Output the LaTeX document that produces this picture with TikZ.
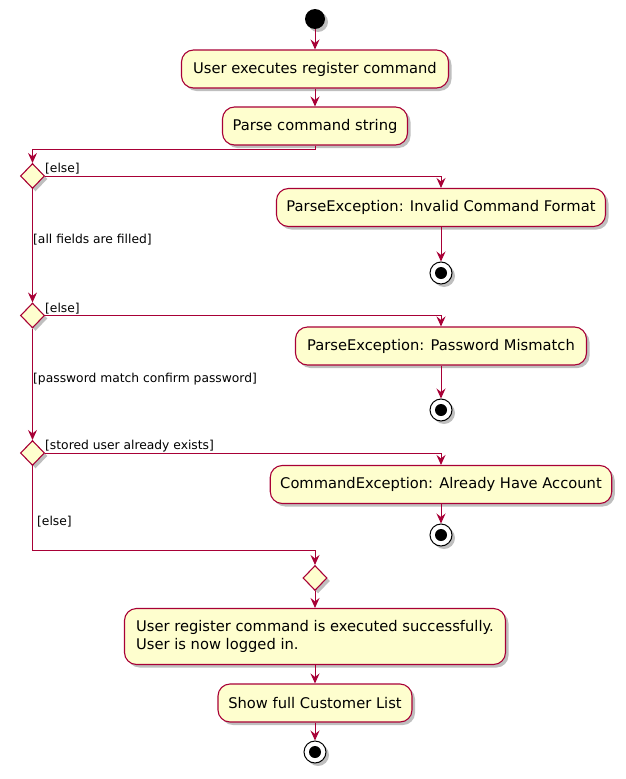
\documentclass[tikz,border=0pt]{standalone}
\usepackage{fontspec}
\setmainfont{DejaVu Sans}
\usetikzlibrary{arrows.meta,shapes.geometric,shadows}
\definecolor{umlred}{HTML}{A80036}
\definecolor{umlfill}{HTML}{FEFECE}
\begin{document}
\begin{tikzpicture}[x=1pt,y=-1pt,>={Stealth[length=10pt,width=9pt,inset=3.5pt]}]
        \tikzstyle{shade}=[drop shadow={shadow xshift=3pt,shadow yshift=-3pt,fill=black,opacity=0.25}]
        \tikzstyle{action}=[rectangle,rounded corners=12pt,draw=umlred,fill=umlfill,line width=1.1pt,minimum height=38pt,inner xsep=10pt,font=\fontsize{14.7}{18.5}\selectfont,shade]
        \tikzstyle{choice}=[diamond,draw=umlred,fill=umlfill,line width=1.1pt,minimum width=24pt,minimum height=25pt,inner sep=0pt,shade]
        \tikzstyle{start}=[circle,fill=black,minimum size=20pt,inner sep=0pt,shade]
        \tikzstyle{stop}=[circle,draw=black,fill=white,line width=1pt,minimum size=22pt,inner sep=0pt,shade,path picture={\fill[black] (path picture bounding box.center) circle (6pt);}]
        \tikzstyle{guard}=[anchor=west,inner sep=0pt,font=\fontsize{12.3}{15}\selectfont]
        \tikzstyle{edge}=[draw,->,umlred,line width=1pt]
       \useasboundingbox (0,0) rectangle (625,779);
       \begin{scope}
         \node [start] (st) at (315,19) {};
         \node [action,minimum width=267pt] (a1) at (315,69) {User executes register command};
         \node [action,minimum width=185pt] (a2) at (315,126) {Parse command string};
         \node [choice] (d1) at (32.5,176) {};
         \node [action,minimum width=328pt] (e1) at (441,207.5) {ParseException: Invalid Command Format};
         \node [stop] (x1) at (441,273) {};
         \node [choice] (d2) at (32.5,315.5) {};
         \node [action,minimum width=291pt] (e2) at (441,346) {ParseException: Password Mismatch};
         \node [stop] (x2) at (441,410) {};
         \node [choice] (d3) at (32.5,453) {};
         \node [action,minimum width=339pt] (e3) at (441,484.5) {CommandException: Already Have Account};
         \node [stop] (x3) at (441,535) {};
         \coordinate (m1) at (32.5,550);
         \node [choice] (d4) at (315,578) {};
         \node [action,minimum width=381pt,minimum height=56pt,align=left] (a3) at (315,636.5) {User register command is executed successfully.\\User is now logged in.};
         \node [action,minimum width=194pt] (a4) at (315,703) {Show full Customer List};
         \node [stop] (x4) at (315,752) {};
         \node [guard] (g1) at (45,169) {[else]};
         \node [guard] (g2) at (33,240) {[all fields are filled]};
         \node [guard] (g3) at (45,308.5) {[else]};
         \node [guard] (g4) at (33,379) {[password match confirm password]};
         \node [guard] (g5) at (45,446) {[stored user already exists]};
         \node [guard] (g6) at (37,522) {[else]};
         \path[edge] (st) edge (a1);
         \path[edge] (a1) edge (a2);
         \draw[edge] (a2.south) -- ++(0,4) -| (d1.north);
         \draw[edge] (d1.east) -| (e1.north);
         \path[edge] (e1) edge (x1);
         \path[edge] (d1) edge (d2);
         \draw[edge] (d2.east) -| (e2.north);
         \path[edge] (e2) edge (x2);
         \path[edge] (d2) edge (d3);
         \draw[edge] (d3.east) -| (e3.north);
         \path[edge] (e3) edge (x3);
         \draw[edge] (d3.south) -- (m1) -| (d4.north);
         \path[edge] (d4) edge (a3);
         \path[edge] (a3) edge (a4);
         \path[edge] (a4) edge (x4);
        \end{scope}
      \end{tikzpicture}
\end{document}
